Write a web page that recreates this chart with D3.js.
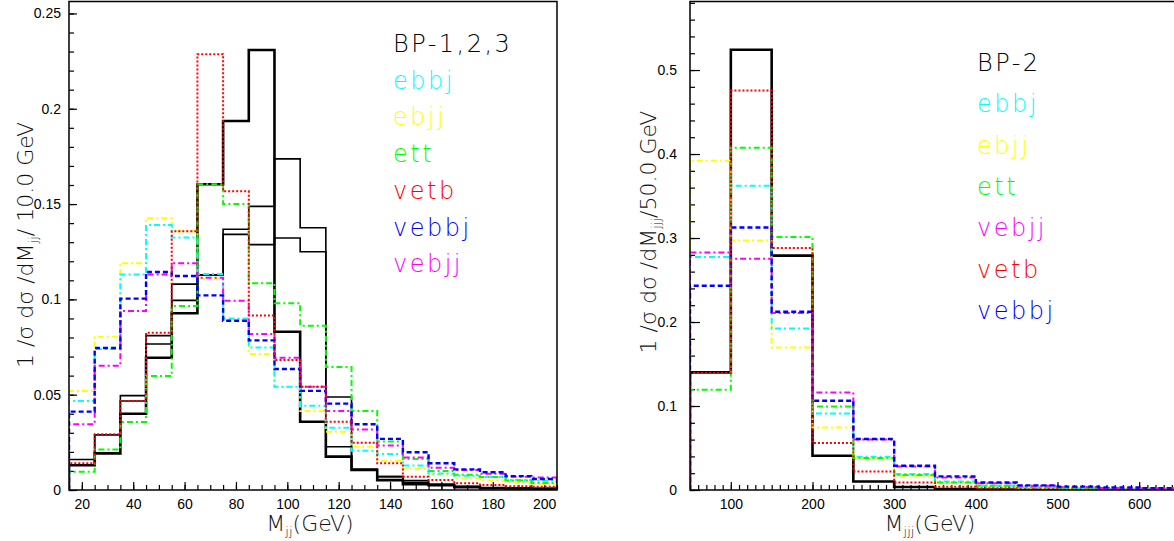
<!DOCTYPE html>
<html>
<head>
<meta charset="utf-8">
<script src="https://cdn.jsdelivr.net/npm/d3@7"></script>
<style>
  body { margin: 0; background: #fff; }
  svg { display: block; }
  .tick text { font-family: "Liberation Sans", Arial, sans-serif; font-size: 14px; fill: #000; }
  .tick line { stroke: #000; stroke-width: 1.2; }
  .legend { font-family: "DejaVu Sans", sans-serif; font-size: 24px; font-weight: 200; letter-spacing: 2.5px; }
  .title { font-family: "DejaVu Sans", sans-serif; font-size: 22px; font-weight: 200; fill: #111; }
</style>
</head>
<body>
<svg id="chart" width="1174" height="541"></svg>
<script>
// ---- left panel: M_jj, 10 GeV bins ----
var jjEdges = [15, 25, 35, 45, 55, 65, 75, 85, 95, 105, 115, 125, 135, 145, 155, 165, 175, 185, 195, 205];
var jjBP1 = [0.013, 0.0192, 0.040, 0.0694, 0.0927, 0.1604, 0.1936, 0.2308, 0.083, 0.0358, 0.0175, 0.0105, 0.0052, 0.003, 0.0025, 0.0015, 0.001, 0.0008, 0.0006];
var jjBP2 = [0.016, 0.029, 0.0495, 0.081, 0.108, 0.1128, 0.1368, 0.1488, 0.1737, 0.1376, 0.0227, 0.0105, 0.007, 0.004, 0.003, 0.0017, 0.001, 0.001, 0.0008];
var jjBP3 = [0.013, 0.029, 0.0467, 0.0766, 0.0995, 0.1128, 0.1341, 0.1287, 0.1322, 0.125, 0.0488, 0.011, 0.007, 0.005, 0.003, 0.002, 0.0012, 0.001, 0.0008];
var jjEbbj = [0.0467, 0.074, 0.113, 0.139, 0.1324, 0.1133, 0.090, 0.0747, 0.0542, 0.0442, 0.0327, 0.0206, 0.0189, 0.0128, 0.0087, 0.0075, 0.0068, 0.0052, 0.0048];
var jjEbjj = [0.052, 0.0804, 0.119, 0.1425, 0.1357, 0.111, 0.089, 0.0714, 0.054, 0.0414, 0.0306, 0.0227, 0.0154, 0.011, 0.0079, 0.006, 0.005, 0.004, 0.003];
var jjEtt = [0.0096, 0.0213, 0.0357, 0.0598, 0.0965, 0.1604, 0.150, 0.1084, 0.098, 0.0862, 0.0645, 0.0414, 0.0254, 0.0163, 0.010, 0.008, 0.0068, 0.005, 0.0037];
var jjVetb = [0.014, 0.0292, 0.0467, 0.0825, 0.1357, 0.2286, 0.1567, 0.0915, 0.0682, 0.0542, 0.0358, 0.0248, 0.014, 0.007, 0.0052, 0.0035, 0.0026, 0.002, 0.0017];
var jjVebbj = [0.0411, 0.0745, 0.1004, 0.1144, 0.1123, 0.1021, 0.0888, 0.0785, 0.0635, 0.052, 0.0453, 0.0345, 0.0268, 0.0198, 0.014, 0.0108, 0.0093, 0.0073, 0.0058];
var jjVebjj = [0.0345, 0.0652, 0.0939, 0.113, 0.119, 0.1114, 0.0993, 0.0818, 0.0694, 0.0542, 0.0414, 0.0318, 0.0233, 0.017, 0.0117, 0.0105, 0.0085, 0.007, 0.0065];
var jjXTicks = [20, 40, 60, 80, 100, 120, 140, 160, 180, 200];
var jjYTicks = [0, 0.05, 0.1, 0.15, 0.2, 0.25];
var jjLegend = ["BP-1,2,3", "ebbj", "ebjj", "ett", "vetb", "vebbj", "vebjj"];

// ---- right panel: M_jjj, 50 GeV bins ----
var jjjEdges = [50, 100, 150, 200, 250, 300, 350, 400, 450, 500, 550, 600, 650];
var jjjBP2 = [0.14, 0.5242, 0.279, 0.0408, 0.0102, 0.0036, 0.001, 0.0005, 0.0002, 0.0001, 0.0001, 0.0];
var jjjEbbj = [0.2774, 0.3623, 0.1924, 0.0912, 0.0395, 0.019, 0.010, 0.005, 0.003, 0.002, 0.0015, 0.001];
var jjjEbjj = [0.392, 0.2971, 0.1698, 0.0745, 0.037, 0.017, 0.008, 0.004, 0.002, 0.0015, 0.001, 0.0008];
var jjjEtt = [0.1194, 0.4075, 0.3012, 0.0995, 0.038, 0.018, 0.009, 0.005, 0.003, 0.002, 0.0015, 0.001];
var jjjVebjj = [0.2829, 0.2754, 0.2107, 0.1162, 0.060, 0.028, 0.015, 0.008, 0.005, 0.0035, 0.0025, 0.002];
var jjjVetb = [0.1393, 0.4757, 0.288, 0.056, 0.0221, 0.009, 0.004, 0.002, 0.001, 0.0005, 0.0003, 0.0002];
var jjjVebbj = [0.2432, 0.3126, 0.2123, 0.1063, 0.0607, 0.0289, 0.0162, 0.009, 0.0055, 0.004, 0.003, 0.002];
var jjjXTicks = [100, 200, 300, 400, 500, 600];
var jjjYTicks = [0, 0.1, 0.2, 0.3, 0.4, 0.5];
var jjjLegend = ["BP-2", "ebbj", "ebjj", "ett", "vebjj", "vetb", "vebbj"];

var svg = d3.select("#chart");

var STY = {
  black:   { color: "#000", width: 2.6, dash: null },
  black2:  { color: "#000", width: 1.6, dash: null },
  cyan:    { color: "#00ffff", width: 2, dash: "6,3,2,3" },
  yellow:  { color: "#ffff00", width: 2, dash: "6,3,2,3" },
  green:   { color: "#00ff00", width: 2, dash: "6,3,2,3" },
  magenta: { color: "#ff00ff", width: 2, dash: "6,3,2,3" },
  red:     { color: "#ff0000", width: 2, dash: "2,2" },
  blue:    { color: "#0000ff", width: 2.4, dash: "5,3" }
};

function histPath(x, y, edges, vals) {
  var p = d3.path();
  p.moveTo(x(edges[0]), y(0));
  vals.forEach(function(v, i) {
    p.lineTo(x(edges[i]), y(v));
    p.lineTo(x(edges[i + 1]), y(v));
  });
  p.lineTo(x(edges[edges.length - 1]), y(0));
  return p.toString();
}

function panel(cfg) {
  var x = d3.scaleLinear().domain(cfg.xDomain).range([cfg.left, cfg.right]);
  var y = d3.scaleLinear().domain(cfg.yDomain).range([490, 2]);
  var g = svg.append("g");
  var clipId = "clip" + cfg.id;
  g.append("clipPath").attr("id", clipId).append("rect")
    .attr("x", cfg.left).attr("y", 2).attr("width", cfg.right - cfg.left).attr("height", 488);

  // minor ticks
  g.append("g").attr("transform", "translate(" + cfg.left + ",0)")
    .call(d3.axisLeft(y).tickValues(cfg.yMinor).tickSize(-5).tickFormat(""))
    .call(function(a) { a.select(".domain").remove(); });
  g.append("g").attr("transform", "translate(0,490)")
    .call(d3.axisBottom(x).tickValues(cfg.xMinor).tickSize(-5).tickFormat(""))
    .call(function(a) { a.select(".domain").remove(); });
  // major ticks
  g.append("g").attr("transform", "translate(" + cfg.left + ",0)")
    .call(d3.axisLeft(y).tickValues(cfg.yTicks).tickSize(-cfg.majorLen).tickPadding(cfg.yPad).tickFormat(function(d) { return String(d); }))
    .call(function(a) { a.select(".domain").remove(); });
  g.append("g").attr("transform", "translate(0,490)")
    .call(d3.axisBottom(x).tickValues(cfg.xTicks).tickSize(-8).tickPadding(9).tickFormat(function(d) { return String(d); }))
    .call(function(a) { a.select(".domain").remove(); });

  var hg = g.append("g").attr("clip-path", "url(#" + clipId + ")");
  cfg.series.forEach(function(s) {
    var st = STY[s.style];
    hg.append("path")
      .attr("d", histPath(x, y, cfg.edges, s.values))
      .attr("fill", "none")
      .attr("stroke", st.color)
      .attr("stroke-width", st.width)
      .attr("stroke-dasharray", st.dash);
  });

  g.append("rect")
    .attr("x", cfg.left).attr("y", 1.5).attr("width", cfg.right - cfg.left).attr("height", 488.5)
    .attr("fill", "none").attr("stroke", "#000").attr("stroke-width", 1.5);

  // legend
  var lg = g.append("g");
  cfg.legend.forEach(function(name, i) {
    lg.append("text").attr("class", "legend")
      .attr("x", cfg.legX).attr("y", cfg.legY0 + i * cfg.legStep)
      .attr("fill", cfg.legColors[i]).text(name);
  });

  // y title
  var yt = g.append("text").attr("class", "title")
    .attr("transform", "translate(" + cfg.yTitleX + "," + cfg.yTitleY + ") rotate(-90)")
    .attr("text-anchor", "middle");
  yt.append("tspan").text("1 /σ dσ /dM");
  yt.append("tspan").attr("font-size", 13).attr("dy", 5).text(cfg.sub);
  yt.append("tspan").attr("dy", -5).text(cfg.yTitleTail);

  // x title
  var xt = g.append("text").attr("class", "title")
    .attr("x", cfg.xTitleX).attr("y", 531).attr("text-anchor", "middle");
  xt.append("tspan").text("M");
  xt.append("tspan").attr("font-size", 13).attr("dy", 5).text(cfg.sub);
  xt.append("tspan").attr("dy", -5).text("(GeV)");
}

var legColors = {
  "BP-1,2,3": "#000", "BP-2": "#000", ebbj: "#00ffff", ebjj: "#ffff00", ett: "#00ff00",
  vetb: "#ff0000", vebbj: "#0000ff", vebjj: "#ff00ff"
};

panel({
  id: "L", left: 69, right: 557, xDomain: [15, 205], yDomain: [0, 0.256],
  edges: jjEdges,
  xTicks: jjXTicks, xMinor: d3.range(15, 206, 5),
  yTicks: jjYTicks, yMinor: d3.range(0, 0.2561, 0.01), majorLen: 8, yPad: 8,
  series: [
    { values: jjBP3, style: "black2" },
    { values: jjBP2, style: "black2" },
    { values: jjBP1, style: "black" },
    { values: jjEbjj, style: "yellow" },
    { values: jjEbbj, style: "cyan" },
    { values: jjEtt, style: "green" },
    { values: jjVebjj, style: "magenta" },
    { values: jjVebbj, style: "blue" },
    { values: jjVetb, style: "red" }
  ],
  legend: jjLegend, legColors: jjLegend.map(function(n) { return legColors[n]; }),
  legX: 393, legY0: 52, legStep: 36.7,
  sub: "jj", yTitleX: 33, yTitleY: 245, yTitleTail: "/ 10.0 GeV", xTitleX: 310
});

panel({
  id: "R", left: 690, right: 1180, xDomain: [50, 650], yDomain: [0, 0.581],
  edges: jjjEdges,
  xTicks: jjjXTicks, xMinor: d3.range(50, 651, 10),
  yTicks: jjjYTicks, yMinor: d3.range(0, 0.581, 0.02), majorLen: 10, yPad: 13,
  series: [
    { values: jjjBP2, style: "black" },
    { values: jjjEbjj, style: "yellow" },
    { values: jjjEbbj, style: "cyan" },
    { values: jjjEtt, style: "green" },
    { values: jjjVebjj, style: "magenta" },
    { values: jjjVebbj, style: "blue" },
    { values: jjjVetb, style: "red" }
  ],
  legend: jjjLegend, legColors: jjjLegend.map(function(n) { return legColors[n]; }),
  legX: 977, legY0: 71, legStep: 41.3,
  sub: "jjj", yTitleX: 656, yTitleY: 232, yTitleTail: "/50.0 GeV", xTitleX: 930
});
</script>
</body>
</html>
